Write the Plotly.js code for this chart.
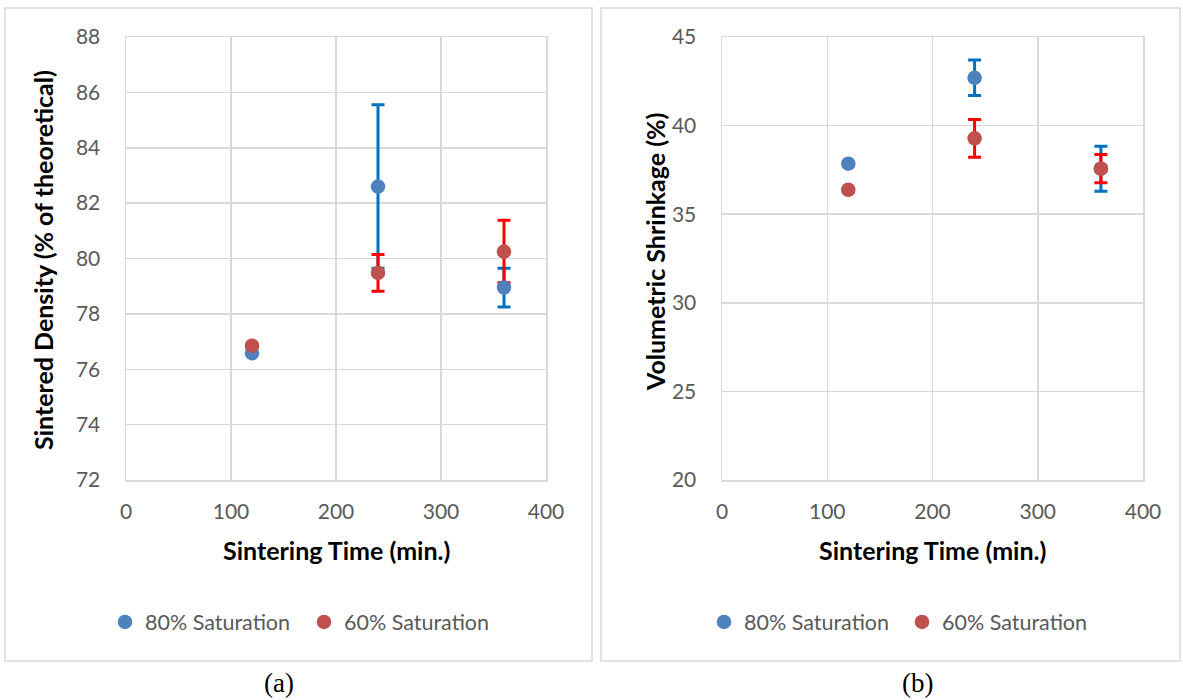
<!DOCTYPE html>
<html>
<head>
<meta charset="utf-8">
<script src="https://cdn.plot.ly/plotly-3.0.1.min.js"></script>
<style>html,body{margin:0;padding:0;background:#fff;}#chart{width:1183px;height:700px;}</style>
</head>
<body>
<div id="chart"></div>
<script>
// Data
const times = [120, 240, 360];
const seriesNames = ["80% Saturation", "60% Saturation"];

const density80 = [76.58, 82.6, 78.95];
const density80Err = [null, 2.95, 0.7];
const density60 = [76.85, 79.48, 80.25];
const density60Err = [null, 0.66, 1.13];

const shrink80 = [37.85, 42.7, 37.57];
const shrink80Err = [null, 1.0, 1.27];
const shrink60 = [36.38, 39.28, 37.57];
const shrink60Err = [null, 1.07, 0.8];

const xTicks = [0, 100, 200, 300, 400];
const densityTicks = [72, 74, 76, 78, 80, 82, 84, 86, 88];
const shrinkTicks = [20, 25, 30, 35, 40, 45];

const markerBlue = "#4F81BD", markerRed = "#C0504D";
const errBlue = "#0070C0", errRed = "#FF0000";
const W = 1183, H = 700;
const px = v => v / W, py = v => 1 - v / H;

function errTrace(x, y, err, color, xa, ya) {
  return {x: x, y: y, type: "scatter", mode: "markers", xaxis: xa, yaxis: ya,
    marker: {size: 1, color: "rgba(0,0,0,0)"}, showlegend: false, hoverinfo: "skip",
    error_y: {type: "data", array: err, visible: true, color: color, thickness: 3, width: 6.5}};
}
function markTrace(x, y, name, color, xa, ya, leg) {
  return {x: x, y: y, type: "scatter", mode: "markers", name: name, xaxis: xa, yaxis: ya,
    legend: leg, marker: {size: 14.5, color: color}};
}

const traces = [
  errTrace(times, density80, density80Err, errBlue, "x", "y"),
  errTrace(times, density60, density60Err, errRed, "x", "y"),
  errTrace(times, shrink80, shrink80Err, errBlue, "x2", "y2"),
  errTrace(times, shrink60, shrink60Err, errRed, "x2", "y2"),
  markTrace(times, density80, seriesNames[0], markerBlue, "x", "y", "legend"),
  markTrace(times, density60, seriesNames[1], markerRed, "x", "y", "legend"),
  markTrace(times, shrink80, seriesNames[0], markerBlue, "x2", "y2", "legend2"),
  markTrace(times, shrink60, seriesNames[1], markerRed, "x2", "y2", "legend2")
];

const fam = "Lato, Carlito, 'Open Sans', sans-serif";
const tickFont = {family: fam, size: 21, color: "#595959"};
const legendFont = {family: fam, size: 21.5, color: "#595959"};
const titleFont = {family: fam, size: 25, color: "#000000", weight: "bold"};
const captionFont = {family: "'Liberation Serif', 'Times New Roman', serif", size: 27, color: "#000"};
const grid = "#D9D9D9";

function xAxis(dom, anchor) {
  return {domain: dom, anchor: anchor, range: [0, 400], tickvals: xTicks, ticks: "",
    showgrid: true, gridcolor: grid, gridwidth: 1.5, zeroline: false,
    showline: true, linecolor: grid, linewidth: 1.5, mirror: true,
    tickfont: tickFont, ticklabelstandoff: 12, fixedrange: true};
}
function yAxis(dom, anchor, range, ticks) {
  return {domain: dom, anchor: anchor, range: range, tickvals: ticks, ticks: "",
    showgrid: true, gridcolor: grid, gridwidth: 1.5, zeroline: false,
    showline: true, linecolor: grid, linewidth: 1.5, mirror: true,
    tickfont: tickFont, ticklabelstandoff: 20, fixedrange: true};
}

const yDom = [py(480), py(37)];
const layout = {
  width: W, height: H, margin: {l: 0, r: 0, t: 0, b: 0},
  paper_bgcolor: "#ffffff", plot_bgcolor: "#ffffff",
  xaxis: xAxis([px(126), px(546)], "y"),
  yaxis: yAxis(yDom, "x", [72, 88], densityTicks),
  xaxis2: xAxis([px(722), px(1143)], "y2"),
  yaxis2: yAxis(yDom, "x2", [20, 45], shrinkTicks),
  legend: {orientation: "h", x: px(105), xanchor: "left", y: py(622), yanchor: "middle",
    font: legendFont, bgcolor: "rgba(0,0,0,0)", entrywidth: 154, entrywidthmode: "pixels"},
  legend2: {orientation: "h", x: px(704), xanchor: "left", y: py(622), yanchor: "middle",
    font: legendFont, bgcolor: "rgba(0,0,0,0)", entrywidth: 153, entrywidthmode: "pixels"},
  shapes: [
    {type: "rect", xref: "paper", yref: "paper", x0: px(5), x1: px(592), y0: py(661), y1: py(8),
      line: {color: grid, width: 1.5}},
    {type: "rect", xref: "paper", yref: "paper", x0: px(601), x1: px(1180), y0: py(661), y1: py(8),
      line: {color: grid, width: 1.5}}
  ],
  annotations: [
    {text: "Sintering Time (min.)", xref: "paper", yref: "paper", x: px(336), y: py(550),
      showarrow: false, font: titleFont, xanchor: "center", yanchor: "middle"},
    {text: "Sintering Time (min.)", xref: "paper", yref: "paper", x: px(932), y: py(550),
      showarrow: false, font: titleFont, xanchor: "center", yanchor: "middle"},
    {text: "Sintered Density (% of theoretical)", xref: "paper", yref: "paper", x: px(43), y: py(260),
      showarrow: false, font: titleFont, textangle: -90, xanchor: "center", yanchor: "middle"},
    {text: "Volumetric Shrinkage (%)", xref: "paper", yref: "paper", x: px(655), y: py(252),
      showarrow: false, font: titleFont, textangle: -90, xanchor: "center", yanchor: "middle"},
    {text: "(a)", xref: "paper", yref: "paper", x: px(279), y: py(699),
      showarrow: false, font: captionFont, xanchor: "center", yanchor: "bottom", borderpad: 0},
    {text: "(b)", xref: "paper", yref: "paper", x: px(918), y: py(699),
      showarrow: false, font: captionFont, xanchor: "center", yanchor: "bottom", borderpad: 0}
  ]
};

Plotly.newPlot("chart", traces, layout, {displayModeBar: false, staticPlot: true});
</script>
</body>
</html>
